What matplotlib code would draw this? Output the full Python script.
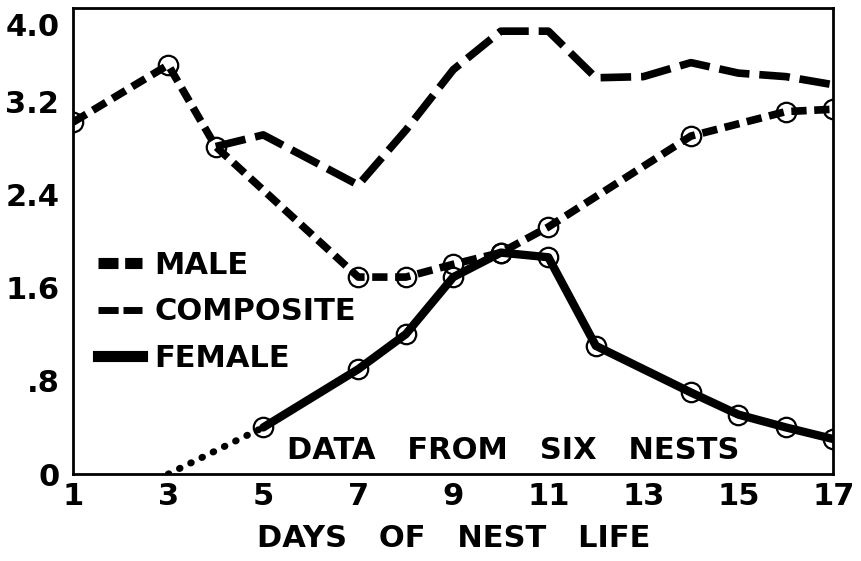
import matplotlib.pyplot as plt
import matplotlib.transforms as mtransforms
from matplotlib.lines import Line2D

# days of nest life
male_days = [1, 3, 4, 7, 8, 9, 10, 11, 14, 16, 17]
male_vals = [3.02, 3.51, 2.81, 1.69, 1.69, 1.80, 1.90, 2.12, 2.90, 3.11, 3.13]

comp_days = [4, 5, 7, 8, 9, 10, 11, 12, 13, 14, 15, 16, 17]
comp_vals = [2.81, 2.91, 2.48, 2.95, 3.47, 3.80, 3.80, 3.40, 3.41, 3.53, 3.44, 3.41, 3.34]

fem_days = [5, 7, 8, 9, 10, 11, 12, 14, 15, 16, 17]
fem_vals = [0.40, 0.90, 1.20, 1.69, 1.90, 1.86, 1.10, 0.70, 0.51, 0.40, 0.30]
fem_est_days = [3, 5]
fem_est_vals = [0.0, 0.40]

xticks = [1, 3, 5, 7, 9, 11, 13, 15, 17]
yticks = [0, 0.8, 1.6, 2.4, 3.2, 4.0]
ytick_labels = ['0', '.8', '1.6', '2.4', '3.2', '4.0']

plt.rcParams['font.family'] = ['DejaVu Sans']
plt.rcParams['font.weight'] = 'bold'
plt.rcParams['axes.labelweight'] = 'bold'

fig = plt.figure(figsize=(8.61, 5.61), dpi=100)
ax = fig.add_axes([0.085, 0.155, 0.883, 0.831])

male_ls = (0, (2.0, 1.0))
comp_ls = (0, (4.0, 1.3))

# composite (long dashes)
ax.plot(comp_days, comp_vals, color='black', lw=5.5, linestyle=comp_ls,
        dash_capstyle='butt', zorder=2)
# female
ax.plot(fem_est_days, fem_est_vals, color='black', lw=5, linestyle=(0, (0.1, 1.7)),
        dash_capstyle='round', zorder=2)
ax.plot(fem_days, fem_vals, color='black', lw=6, solid_capstyle='round', zorder=3,
        marker='o', markersize=14, markerfacecolor='none', markeredgecolor='black',
        markeredgewidth=1.6)
# male (short dashes)
ax.plot(male_days, male_vals, color='black', lw=5.5, linestyle=male_ls,
        dash_capstyle='butt', zorder=4,
        marker='o', markersize=14, markerfacecolor='none', markeredgecolor='black',
        markeredgewidth=1.6)

handles = [
    Line2D([], [], color='black', lw=8, linestyle=(0, (1.8, 0.6)), dash_capstyle='butt'),
    Line2D([], [], color='black', lw=5, linestyle=(0, (2.9, 0.7)), dash_capstyle='butt'),
    Line2D([], [], color='black', lw=8),
]
ax.legend(handles, ['MALE', 'COMPOSITE', 'FEMALE'], loc='center left',
          bbox_to_anchor=(0.012, 0.348), frameon=False, fontsize=22,
          handlelength=1.45, handletextpad=0.4, labelspacing=0.58, borderpad=0)

ax.text(10.25, 0.2, 'DATA   FROM   SIX   NESTS', fontsize=22, ha='center', va='center')

ax.set_xlim(1, 17)
ax.set_ylim(0, 4.0)
ax.set_xticks(xticks)
ax.set_yticks(yticks)
ax.set_yticklabels(ytick_labels)
ax.tick_params(length=0, labelsize=22)
ax.tick_params(axis='y', pad=10)
ax.tick_params(axis='x', pad=6)
ax.set_xlabel('DAYS   OF   NEST   LIFE', fontsize=22, labelpad=9)
for s in ax.spines.values():
    s.set_linewidth(2)

# top label sits a little below the frame in the original lettering
top_lab = ax.get_yticklabels()[-1]
top_lab.set_transform(top_lab.get_transform() +
                      mtransforms.ScaledTranslation(0, -0.17, fig.dpi_scale_trans))

fig.savefig('out.png', dpi=100)
